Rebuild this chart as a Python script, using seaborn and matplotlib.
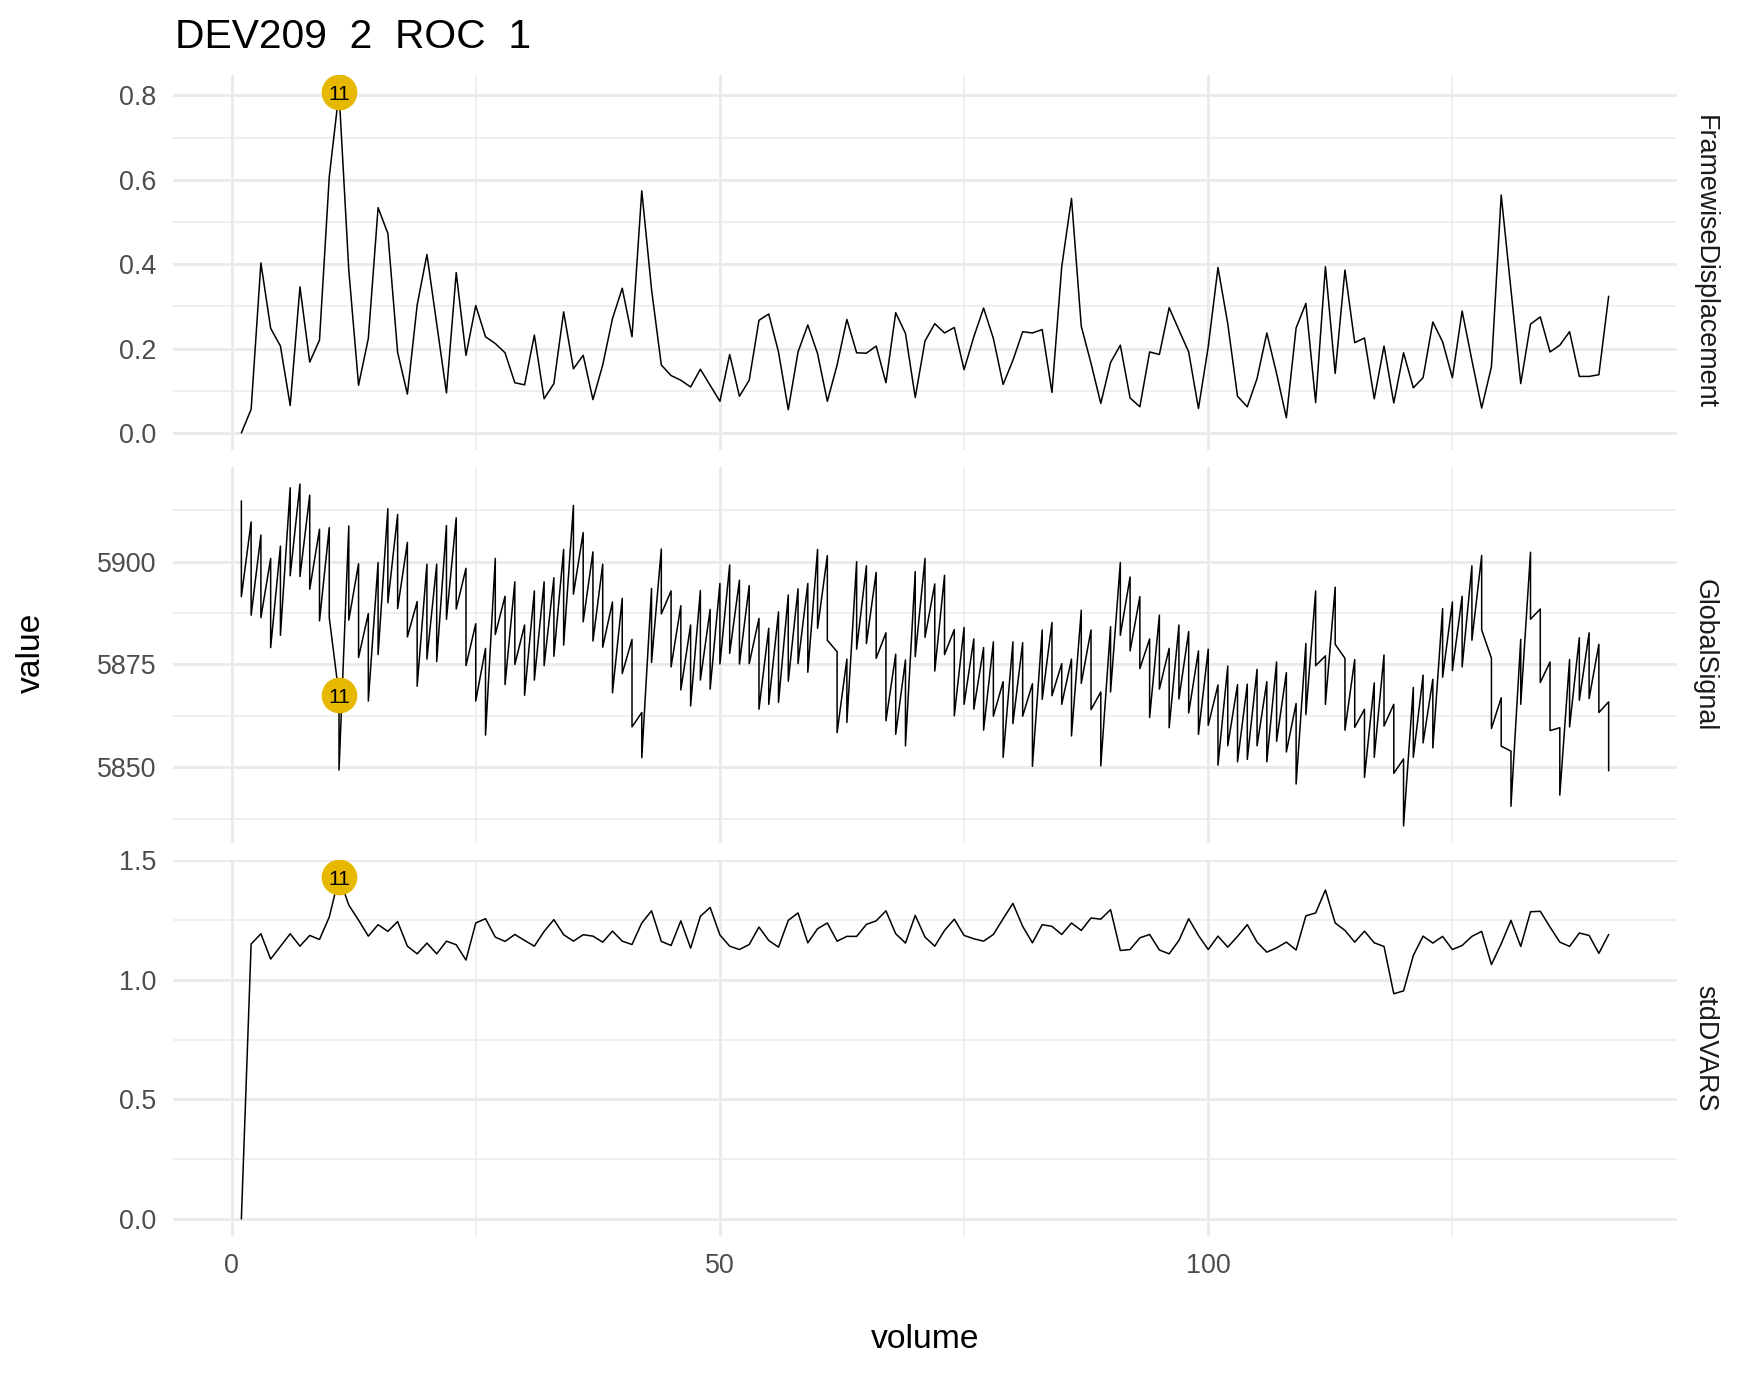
import numpy as np
import pandas as pd
import matplotlib
matplotlib.use("Agg")
import matplotlib.pyplot as plt
import seaborn as sns
from matplotlib.ticker import MultipleLocator, FormatStrFormatter

# ---------------- data ----------------
title = "DEV209  2  ROC  1"
measures = ["FramewiseDisplacement", "GlobalSignal", "stdDVARS"]
volumes = list(range(1, 142))

framewise_displacement = [
    0.000, 0.056, 0.403, 0.248, 0.206, 0.065, 0.346, 0.168, 0.220, 0.607,
    0.808, 0.386, 0.113, 0.224, 0.534, 0.473, 0.191, 0.092, 0.303, 0.423,
    0.259, 0.095, 0.380, 0.184, 0.302, 0.228, 0.212, 0.190, 0.119, 0.114,
    0.232, 0.081, 0.117, 0.287, 0.152, 0.184, 0.079, 0.161, 0.271, 0.343,
    0.228, 0.574, 0.340, 0.161, 0.136, 0.125, 0.109, 0.151, 0.113, 0.075,
    0.186, 0.087, 0.125, 0.267, 0.282, 0.192, 0.055, 0.192, 0.256, 0.188,
    0.075, 0.161, 0.269, 0.190, 0.189, 0.206, 0.119, 0.285, 0.236, 0.084,
    0.218, 0.259, 0.237, 0.250, 0.150, 0.228, 0.296, 0.224, 0.115, 0.172,
    0.240, 0.237, 0.245, 0.096, 0.394, 0.556, 0.253, 0.165, 0.070, 0.167,
    0.208, 0.083, 0.062, 0.192, 0.186, 0.297, 0.244, 0.192, 0.058, 0.204,
    0.392, 0.259, 0.087, 0.062, 0.129, 0.237, 0.141, 0.036, 0.249, 0.307,
    0.072, 0.394, 0.141, 0.386, 0.214, 0.225, 0.081, 0.206, 0.071, 0.190,
    0.107, 0.131, 0.263, 0.216, 0.131, 0.289, 0.172, 0.059, 0.157, 0.564,
    0.339, 0.117, 0.258, 0.275, 0.192, 0.208, 0.240, 0.134, 0.134, 0.138,
    0.324,
]

# GlobalSignal has two rows per volume (first and second reading)
global_signal_first = [
    5914.8, 5909.7, 5906.5, 5900.8, 5903.8, 5918.0, 5918.9, 5916.2, 5907.9, 5908.3,
    5867.5, 5908.7, 5899.5, 5887.4, 5899.8, 5912.9, 5911.5, 5904.7, 5890.3, 5899.4,
    5899.4, 5908.8, 5910.7, 5898.4, 5884.9, 5878.9, 5900.8, 5891.6, 5895.1, 5884.6,
    5892.9, 5895.1, 5896.1, 5903.0, 5913.7, 5907.1, 5902.4, 5899.4, 5890.2, 5891.1,
    5881.1, 5863.3, 5893.5, 5903.1, 5892.9, 5889.3, 5884.6, 5893.0, 5888.4, 5894.7,
    5899.2, 5895.5, 5894.2, 5886.2, 5883.8, 5887.8, 5891.9, 5893.4, 5894.7, 5903.0,
    5901.5, 5878.1, 5876.3, 5900.0, 5899.0, 5897.4, 5882.7, 5877.5, 5876.1, 5897.6,
    5900.8, 5894.6, 5896.7, 5883.5, 5884.0, 5881.2, 5879.1, 5880.5, 5870.8, 5880.5,
    5880.3, 5870.3, 5883.4, 5885.2, 5875.2, 5876.3, 5888.2, 5883.4, 5868.3, 5884.2,
    5899.8, 5896.3, 5891.5, 5881.2, 5887.0, 5878.9, 5884.6, 5883.0, 5878.3, 5878.7,
    5870.0, 5874.6, 5870.1, 5870.2, 5873.8, 5870.8, 5875.6, 5873.0, 5865.5, 5880.1,
    5892.9, 5877.1, 5893.8, 5876.5, 5876.2, 5864.1, 5870.5, 5877.3, 5865.3, 5852.0,
    5869.4, 5872.4, 5871.4, 5888.6, 5890.2, 5891.6, 5899.0, 5901.5, 5876.5, 5866.9,
    5853.9, 5881.1, 5902.3, 5888.5, 5875.6, 5859.6, 5876.2, 5881.5, 5882.7, 5879.9,
    5865.9,
]
global_signal_second = [
    5891.5, 5887.0, 5886.4, 5879.1, 5882.1, 5896.6, 5896.4, 5893.3, 5885.6, 5886.4,
    5849.3, 5885.8, 5876.7, 5866.1, 5877.4, 5890.0, 5888.6, 5881.7, 5869.7, 5876.3,
    5875.7, 5886.0, 5888.5, 5874.7, 5866.1, 5857.8, 5882.3, 5870.1, 5875.0, 5867.5,
    5871.2, 5874.7, 5877.0, 5879.7, 5892.1, 5885.4, 5880.7, 5879.2, 5868.1, 5872.8,
    5859.8, 5852.3, 5875.5, 5887.3, 5874.4, 5868.8, 5864.9, 5871.2, 5869.0, 5875.1,
    5877.7, 5875.1, 5875.2, 5864.1, 5865.3, 5865.8, 5870.9, 5875.2, 5873.1, 5883.8,
    5880.9, 5858.4, 5860.9, 5878.7, 5880.1, 5876.5, 5861.3, 5858.0, 5855.2, 5876.9,
    5881.6, 5873.4, 5877.4, 5862.5, 5865.3, 5864.1, 5859.0, 5862.4, 5852.4, 5860.6,
    5862.4, 5850.2, 5866.5, 5867.4, 5865.3, 5857.6, 5870.4, 5864.0, 5850.3, 5868.3,
    5882.1, 5878.3, 5874.0, 5862.1, 5869.0, 5859.6, 5866.6, 5863.2, 5858.0, 5860.2,
    5850.5, 5855.2, 5851.3, 5851.9, 5855.2, 5851.3, 5856.3, 5853.7, 5845.9, 5862.8,
    5874.7, 5865.3, 5879.9, 5859.0, 5859.7, 5847.5, 5852.4, 5860.0, 5848.5, 5835.7,
    5852.4, 5855.9, 5854.7, 5871.9, 5873.5, 5874.4, 5880.9, 5883.4, 5859.4, 5855.1,
    5840.5, 5865.3, 5886.0, 5870.6, 5858.9, 5843.2, 5859.8, 5866.3, 5866.7, 5863.3,
    5849.1,
]

std_dvars = [
    0.000, 1.150, 1.193, 1.087, 1.140, 1.193, 1.141, 1.186, 1.169, 1.263,
    1.430, 1.313, 1.250, 1.183, 1.231, 1.203, 1.244, 1.141, 1.109, 1.154,
    1.109, 1.162, 1.147, 1.083, 1.238, 1.256, 1.179, 1.161, 1.190, 1.165,
    1.141, 1.203, 1.252, 1.189, 1.162, 1.189, 1.183, 1.158, 1.204, 1.162,
    1.148, 1.238, 1.289, 1.161, 1.144, 1.247, 1.133, 1.266, 1.303, 1.188,
    1.141, 1.127, 1.148, 1.221, 1.165, 1.137, 1.249, 1.280, 1.155, 1.214,
    1.238, 1.162, 1.182, 1.182, 1.232, 1.247, 1.289, 1.193, 1.154, 1.270,
    1.179, 1.141, 1.207, 1.254, 1.186, 1.172, 1.162, 1.190, 1.256, 1.320,
    1.224, 1.155, 1.231, 1.224, 1.190, 1.238, 1.207, 1.259, 1.254, 1.294,
    1.123, 1.127, 1.176, 1.190, 1.125, 1.109, 1.165, 1.256, 1.186, 1.127,
    1.183, 1.137, 1.182, 1.231, 1.158, 1.116, 1.134, 1.158, 1.125, 1.268,
    1.280, 1.376, 1.238, 1.207, 1.158, 1.204, 1.155, 1.140, 0.942, 0.954,
    1.102, 1.183, 1.154, 1.182, 1.127, 1.144, 1.182, 1.203, 1.064, 1.151,
    1.249, 1.140, 1.285, 1.287, 1.221, 1.158, 1.140, 1.196, 1.186, 1.111,
    1.190,
]

flag_volume = 11
flag_values = {"FramewiseDisplacement": 0.808, "GlobalSignal": 5867.5, "stdDVARS": 1.430}

# ---------------- long table ----------------
rows = []
for v, val in zip(volumes, framewise_displacement):
    rows.append(("FramewiseDisplacement", v, val))
for v, a, b in zip(volumes, global_signal_first, global_signal_second):
    rows.append(("GlobalSignal", v, a))
    rows.append(("GlobalSignal", v, b))
for v, val in zip(volumes, std_dvars):
    rows.append(("stdDVARS", v, val))
df = pd.DataFrame(rows, columns=["measure", "volume", "value"])

# ---------------- styling ----------------
sns.set_theme(style="white")
plt.rcParams['font.family'] = ['Liberation Sans', 'DejaVu Sans']

W, H = 1750, 1375
fig = plt.figure(figsize=(W / 100, H / 100), dpi=100)
fig.patch.set_facecolor("white")

left_px, right_px = 173, 1677
panels_px = [(75, 450), (467, 843), (860, 1236)]
ylims = [(-0.0404, 0.8484), (5831.54, 5923.06), (-0.0716, 1.5016)]
major_steps = [0.2, 25, 0.5]
fmts = ["%.1f", "%.0f", "%.1f"]

grid_col = "#EBEBEB"
tick_col = "#4D4D4D"
gold = "#E7B800"

axes = []
for i, (m, (top, bot)) in enumerate(zip(measures, panels_px)):
    ax = fig.add_axes([left_px / W, 1 - bot / H, (right_px - left_px) / W, (bot - top) / H])
    sub = df[df["measure"] == m]
    sns.lineplot(data=sub, x="volume", y="value", sort=False, estimator=None,
                 color="black", linewidth=1.1, ax=ax, zorder=3)
    ax.set_xlim(-6, 148)
    ax.set_ylim(*ylims[i])
    ax.xaxis.set_major_locator(MultipleLocator(50))
    ax.xaxis.set_minor_locator(MultipleLocator(25))
    ax.yaxis.set_major_locator(MultipleLocator(major_steps[i]))
    ax.yaxis.set_minor_locator(MultipleLocator(major_steps[i] / 2))
    ax.yaxis.set_major_formatter(FormatStrFormatter(fmts[i]))
    ax.grid(which="major", color=grid_col, linewidth=2.2)
    ax.grid(which="minor", color=grid_col, linewidth=1.1)
    ax.set_axisbelow(True)
    for s in ax.spines.values():
        s.set_visible(False)
    ax.tick_params(which="both", length=0)
    ax.tick_params(axis="both", labelsize=19.4, labelcolor=tick_col, pad=12)
    if i < 2:
        ax.tick_params(axis="x", labelbottom=False)
    ax.set_xlabel("")
    ax.set_ylabel("")
    # flagged volume marker
    fv = flag_values[m]
    ax.scatter([flag_volume], [fv], s=660, color=gold, zorder=5, linewidths=0)
    ax.text(flag_volume, fv, str(flag_volume), ha="center", va="center_baseline",
            fontsize=15, color="black", zorder=6)
    # facet strip label
    fig.text(1705 / W, 1 - ((top + bot) / 2) / H, m, rotation=-90,
             ha="center", va="center", fontsize=19.4, color="#1A1A1A")
    axes.append(ax)

fig.text(175 / W, 1 - 48 / H, title, ha="left", va="baseline", fontsize=29.3, color="black")
fig.text(31 / W, 1 - 653 / H, "value", rotation=90, ha="center", va="center",
         fontsize=24.2, color="black")
fig.text(925 / W, 1 - 1340 / H, "volume", ha="center", va="center",
         fontsize=24.2, color="black")

fig.savefig("out.png", dpi=100, facecolor="white")
